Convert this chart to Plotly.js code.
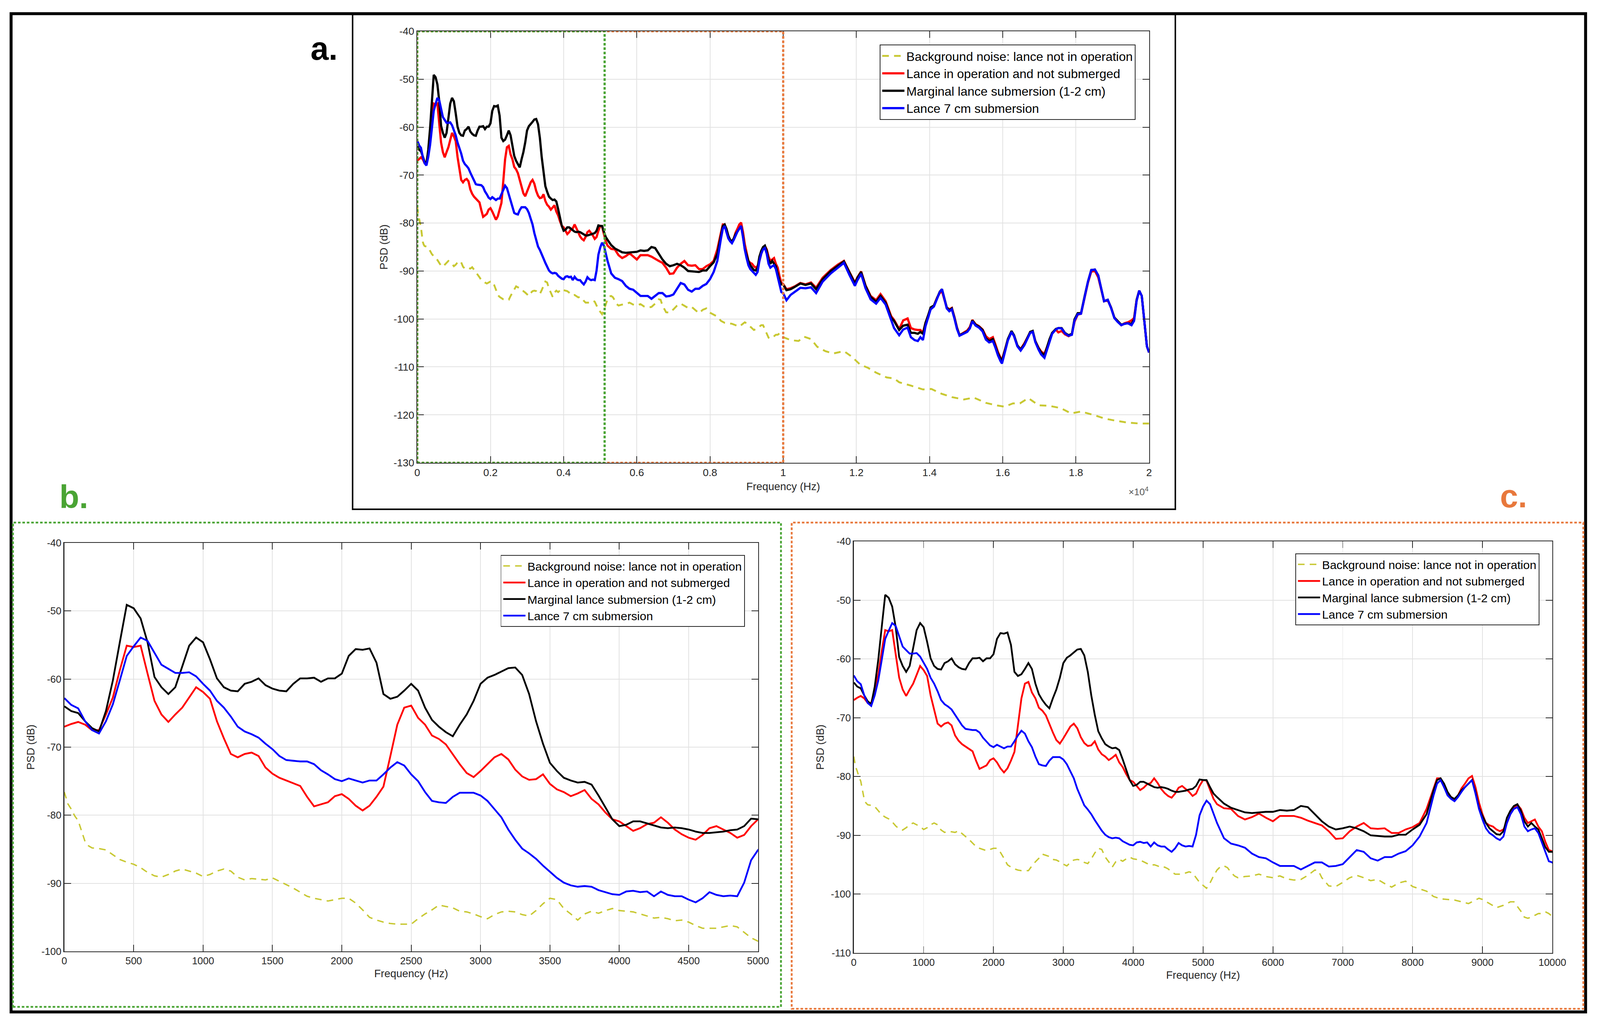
<!DOCTYPE html>
<html><head><meta charset="utf-8">
<script src="https://cdn.plot.ly/plotly-3.0.1.min.js"></script>
<style>html,body{margin:0;padding:0;background:#fff;overflow:hidden}#chart{width:100vw;height:100vh}</style>
</head><body><div id="chart"></div><script>
// ---------------- DATA ----------------
const freq = [
0,50,100,150,200,250,300,350,400,450,500,550,600,650,700,750,800,850,900,950,
1000,1050,1100,1150,1200,1250,1300,1350,1400,1450,1500,1550,1600,1650,1700,1750,1800,1850,1900,1950,
2000,2050,2100,2150,2200,2250,2300,2350,2400,2450,2500,2550,2600,2650,2700,2750,2800,2850,2900,2950,
3000,3050,3100,3150,3200,3250,3300,3350,3400,3450,3500,3550,3600,3650,3700,3750,3800,3850,3900,3950,
4000,4050,4100,4150,4200,4250,4300,4350,4400,4450,4500,4550,4600,4650,4700,4750,4800,4850,4900,4950,
5000,
5050,5100,5150,5200,5300,5400,5500,5600,5700,5800,5900,
6000,6100,6200,6300,6400,6500,6600,6700,6800,6900,
7000,7100,7200,7300,7400,7500,7600,7700,7800,7900,
8000,8100,8200,8300,8350,8400,8450,8500,8550,8600,8650,8700,8750,8800,8850,8900,8950,
9000,9050,9100,9150,9200,9250,9300,9350,9400,9450,9500,9550,9600,9650,9700,9750,9800,9850,9900,9950,
10000,10090,10200,10320,10470,10610,10760,10900,11080,11300,11490,11660,11810,11960,12030,12130,12250,12390,12540,12660,12800,12950,
13030,13170,13280,13400,13490,13590,13680,13750,13820,13890,13960,14030,14120,14210,14280,14340,14400,14470,14540,14610,14680,14750,14820,14910,
15030,15100,15170,15260,15350,15450,15540,15630,15730,15800,15870,15940,15980,16050,16140,16240,16310,16400,16490,16590,16680,16750,16820,16890,16980,
17050,17140,17210,17280,17350,17450,17520,17610,17700,17800,17890,17960,18050,18140,18240,18330,18420,18520,18610,18700,18770,18870,18960,
19050,19140,19240,19330,19420,19520,19590,19660,19730,19800,19870,19940,20000
];

// Lance in operation and not submerged (red)
const lanceDry = [
-67,-66.6,-66.3,-66.7,-67.5,-67.5,-65.2,-62.7,-58.7,-55.1,-55.3,-55.1,-59.2,-63.2,-65.2,-66.3,-65.2,-64.2,-62.7,-61.2,
-61.9,-62.9,-66.2,-68.7,-71,-71.5,-71,-70.8,-71.3,-73,-73.9,-74.5,-74.9,-75.3,-75.7,-77.3,-78.7,-78.4,-78.1,-77.2,
-76.9,-77.6,-78.6,-79.3,-78.6,-77.3,-75.8,-71.3,-66.7,-64.2,-63.9,-65.7,-66.7,-68.3,-68.8,-69.6,-71.1,-72.5,-73.8,-74.4,
-73.5,-72.5,-71.5,-71,-71.8,-73.3,-74.3,-74.8,-74.7,-74,-75.4,-76.2,-76.6,-77.2,-76.8,-76.3,-77.6,-78.4,-79.6,-80.6,
-80.9,-81.6,-82.3,-81.9,-81.3,-81.1,-80.3,-81.1,-82.1,-82.8,-83.3,-83.6,-82.9,-81.9,-81.6,-82.1,-82.6,-83.3,-82.9,-81.6,
-80.6,
-80.7,-82.3,-83.8,-84.7,-85.4,-85.5,-86.7,-87.3,-86.9,-86.3,-87,
-87.6,-86.7,-86.7,-86.7,-87,-87.5,-87.9,-88.3,-89.3,-90.6,
-90.5,-89.3,-88.5,-87.9,-88.8,-88.9,-88.8,-89.6,-89.6,-89,
-88.6,-87.9,-85.5,-82,-80.3,-80.3,-81.8,-82.9,-83.5,-84,-83.2,-82,-81.2,-80.3,-79.9,-81.8,-84.4,
-86.4,-87.9,-88.3,-88.5,-89,-89.3,-89,-87.9,-86.4,-85.3,-84.8,-85.5,-87,-87.9,-87.6,-87.3,-88.5,-89.3,-91.1,-92.5,
-92.7,-93.8,-93.6,-93.2,-92.5,-92.8,-92.4,-93.5,-91.4,-89.8,-88.7,-87.9,-90.2,-92.4,-91.3,-90.1,-93,-95.2,-96.1,-94.8,-96.3,-99.4,
-100.2,-102.1,-100.3,-99.9,-101.9,-102.2,-102.3,-102.3,-102.9,-100.8,-99.3,-97.8,-97.2,-95.5,-94.6,-94.2,-95.8,-97.6,-98,-97.7,-99.6,-101.8,-103.4,-103,
-102.4,-101.7,-100.2,-101.1,-101.5,-102.2,-103.6,-104.2,-103.8,-105.3,-106.9,-108.1,-108.5,-106.7,-104.3,-102.7,-103.6,-105.6,-106.3,-105.1,-103.8,-102.8,-102.6,-104.6,-106,
-106.8,-107.3,-105.9,-104.3,-103,-102.2,-102.8,-102.5,-103.2,-103.6,-103.2,-100.6,-99.1,-98.9,-95.4,-92.4,-90.1,-90,-91.3,-93.9,-96.3,-96.1,-97.6,
-99.7,-100.5,-101.3,-100.9,-100.7,-100.3,-99.8,-96,-94.1,-95.2,-100.4,-105.7,-107
];

// Marginal lance submersion (1-2 cm) (black)
const marginal = [
-64,-64.7,-65,-66.2,-67.2,-67.7,-64.7,-60.2,-54.6,-49.1,-49.6,-51.1,-54.6,-59.7,-61.2,-62.2,-61.2,-58.2,-55.1,-53.9,
-54.6,-57.1,-59.9,-61.2,-61.7,-61.8,-60.7,-60.4,-59.9,-60.9,-61.4,-61.7,-61.8,-60.7,-59.9,-59.9,-59.8,-60.4,-59.9,-59.9,
-59.2,-56.6,-55.6,-55.7,-55.5,-57.6,-62.2,-62.9,-62.6,-61.7,-60.7,-61.7,-64.2,-66,-67,-67.8,-68.4,-66.7,-65.2,-63.2,
-60.7,-59.8,-59.4,-58.9,-58.4,-58.3,-59.4,-62.2,-66.2,-69.5,-72.3,-73.5,-74.5,-74.9,-75.2,-75.1,-75.5,-77.1,-78.8,-80.6,
-81.6,-81.4,-80.9,-80.9,-81.2,-81.5,-81.8,-81.9,-81.8,-81.9,-82.1,-82.4,-82.6,-82.6,-82.5,-82.4,-82.2,-82.1,-81.6,-80.5,
-80.6,
-80.6,-81.8,-82.9,-83.5,-84.6,-85.3,-85.7,-86.1,-86.2,-86.1,-86,
-86,-85.7,-85.8,-85.7,-85,-85.2,-86.4,-87.6,-88.5,-89,
-88.8,-88.5,-88.8,-89.3,-90,-90.1,-90.2,-90.2,-89.9,-89.9,
-89,-88.2,-86.4,-82.3,-80.6,-80.3,-81.2,-82.6,-83.5,-83.8,-83.2,-82.3,-81.8,-81.2,-80.6,-82.6,-85.3,
-86.7,-87.9,-88.8,-89.3,-89.8,-89.9,-89.3,-87,-85.8,-85,-84.7,-85.8,-87.6,-88.5,-87.9,-88.5,-89,-90.5,-92,-92.8,
-92.8,-94,-93.8,-93.3,-92.6,-92.9,-92.6,-93.8,-91.7,-90,-88.9,-88,-90.3,-92.6,-91.4,-90.2,-93.1,-95.4,-96.4,-95.2,-96.6,-99.7,
-100.4,-102.3,-101.4,-101.2,-102.9,-102.9,-103.1,-102.7,-103.1,-100.8,-99.3,-97.6,-97.2,-95.4,-94.3,-93.8,-95.6,-97.6,-98.2,-97.8,-99.7,-101.9,-103.4,-103.1,
-102.6,-101.9,-100.3,-101.2,-101.6,-102.3,-104,-104.6,-104.2,-105.7,-107.2,-108.3,-108.7,-106.8,-104.2,-102.5,-103.4,-105.5,-106.4,-105.3,-103.8,-102.7,-102.5,-104.6,-106.1,
-107,-107.6,-105.9,-104.2,-102.9,-102.1,-101.9,-101.9,-102.9,-103.4,-103.1,-100.1,-98.8,-98.8,-95.2,-92.2,-89.8,-89.7,-90.9,-93.7,-96.3,-96,-97.6,
-99.7,-100.4,-101.2,-101,-100.9,-101,-100.1,-96,-94.1,-95.2,-100.4,-105.7,-107
];

// Lance 7 cm submersion (blue)
const deep7cm = [
-62.8,-63.8,-64.3,-66.2,-67.5,-68,-66.2,-63.7,-60.2,-56.6,-55.2,-53.9,-54.4,-56.1,-57.9,-58.5,-59.1,-59.1,-59,-59.6,
-60.7,-61.7,-63.2,-64.2,-65.5,-67,-67.7,-68.1,-68.6,-69.5,-70.3,-71.3,-71.9,-72,-72.1,-72.1,-72.5,-73.4,-74,-74.7,
-75,-74.6,-74.9,-75.2,-74.9,-74.9,-74,-73,-72.2,-72.7,-74,-75,-76.6,-77.9,-78.1,-78.2,-77.3,-76.7,-76.7,-76.7,
-77.1,-77.9,-79.1,-80.3,-82.1,-83.6,-84.9,-85.6,-86.4,-87.4,-88.3,-89.2,-89.9,-90.3,-90.5,-90.4,-90.5,-91,-91.3,-91.6,
-91.7,-91.2,-91.1,-91.3,-91.2,-91.9,-91.2,-91.7,-91.9,-91.9,-92.4,-92.8,-92.2,-91.3,-91.7,-91.9,-91.8,-91.9,-89.9,-86.6,
-85.1,
-84.1,-84.7,-86.4,-87.9,-90.5,-91.4,-91.7,-92.1,-93.1,-93.7,-93.9,
-94.6,-95.2,-95.2,-95.2,-95.8,-95.2,-94.6,-94.6,-95.3,-95.2,
-94.9,-93.7,-92.5,-92.8,-93.9,-94.3,-93.7,-93.7,-93.1,-92.7,
-91.7,-90.2,-87.9,-83.2,-81.2,-80.6,-81.8,-83.2,-83.8,-84.2,-83.5,-82.6,-81.8,-81.2,-80.6,-82.9,-85.5,
-87.3,-88.8,-89.6,-90,-90.5,-90.8,-90.2,-87.9,-86.4,-85.5,-85.2,-86.4,-88.5,-89.3,-89,-88.8,-89.6,-91.1,-92.8,-94.4,
-94.6,-96.1,-95,-94.3,-93.5,-93.6,-93.4,-94.6,-92.2,-90.5,-89.3,-88.3,-90.8,-93.1,-91.9,-90.6,-93.6,-95.9,-96.8,-95.6,-97,-100.4,
-101.9,-103.4,-102.2,-101.8,-103.8,-104.4,-104.6,-103.8,-104.4,-101.5,-99.8,-98,-97.4,-95.6,-94.4,-93.8,-95.6,-97.8,-98.4,-98,-99.9,-102.1,-103.5,-103.2,
-102.7,-102,-100.5,-101.4,-101.8,-102.6,-104.3,-104.9,-104.6,-106,-107.6,-108.8,-109.3,-107.2,-104.5,-102.7,-103.6,-105.7,-106.6,-105.5,-104,-102.9,-102.7,-104.8,-106.4,
-107.4,-108.1,-106.3,-104.5,-103.1,-102.2,-101.9,-102,-103,-103.5,-103.3,-100.4,-99,-98.9,-95.2,-92.2,-89.8,-89.7,-90.9,-93.7,-96.3,-96,-97.7,
-99.8,-100.6,-101.3,-101,-100.9,-101.3,-100.4,-96.2,-94.1,-95.2,-100.4,-105.7,-107
];

// Background noise: lance not in operation (yellow dashed)
const bgFreq = [
0,25,50,75,100,125,150,175,200,250,300,350,400,450,500,550,600,650,700,750,800,850,900,950,
1000,1050,1100,1150,1200,1250,1300,1350,1400,1450,1500,1550,1600,1650,1700,1750,1800,1850,1900,1950,
2000,2050,2100,2150,2200,2250,2300,2350,2400,2450,2500,2550,2600,2650,2700,2750,2800,2850,2900,2950,
3000,3050,3100,3150,3200,3250,3300,3350,3400,3450,3500,3550,3600,3650,3700,3750,3800,3850,3900,3950,
4000,4050,4100,4150,4200,4250,4300,4350,4400,4450,4500,4550,4600,4650,4700,4750,4800,4850,4900,4950,
5000,
5050,5100,5150,5200,5250,5300,5350,5400,5450,5500,5600,5700,5800,5900,
6000,6100,6200,6300,6400,6500,6600,6650,6700,6800,6900,
7000,7100,7200,7300,7400,7500,7600,7700,7800,7900,
8000,8100,8200,8300,8400,8500,8600,8700,8800,8900,8950,
9000,9100,9200,9300,9400,9450,9500,9550,9600,9650,9700,9750,9800,9850,9900,9950,
10000,10200,10420,10570,10760,10930,11150,11370,11660,11880,12100,12320,12540,12830,
13030,13170,13490,13820,14050,14330,14610,14940,15210,15540,15820,16050,16280,16470,16700,16980,17260,17590,17870,18140,18470,18800,19070,19400,19730,20000
];
const bgNoise = [
-76.6,-78.3,-79.1,-80.1,-80.8,-82.4,-83.9,-84.5,-84.8,-84.9,-85.1,-85.8,-86.5,-86.9,-87.2,-87.7,-88.4,-88.9,-89.1,-88.7,-88.2,-87.9,-88.2,-88.5,
-89,-88.7,-88.2,-87.9,-88.2,-89.1,-89.5,-89.3,-89.4,-89.5,-89.2,-89.7,-90.2,-90.7,-91.3,-91.9,-92.2,-92.4,-92.6,-92.4,
-92.2,-92.2,-92.9,-93.9,-95,-95.4,-95.7,-95.9,-96,-96,-96,-95.2,-94.5,-93.9,-93.2,-93.4,-93.6,-94.1,-94.2,-94.5,
-94.9,-95.2,-94.6,-94.2,-94.1,-94.2,-94.6,-94.8,-94,-93,-92.2,-92.4,-93.7,-94.5,-95.4,-94.5,-94.1,-94.4,-94,-93.7,
-94,-94.1,-94.2,-94.5,-94.8,-95.1,-95,-95.2,-95.5,-95.4,-95.7,-96.2,-96.6,-96.6,-96.6,-96.4,-96.2,-96.4,-97.2,-98,
-98.5,
-99,-98.1,-96.9,-95.9,-95.3,-95.2,-95.5,-96.3,-96.9,-97.2,-97,-96.9,-96.6,-97,
-97.2,-96.9,-97.4,-97.6,-97.5,-96.8,-95.9,-96,-97.2,-98.6,-98.7,
-98,-97.2,-96.8,-97.2,-97.7,-97.5,-98.2,-98.8,-98.1,-97.8,
-98.7,-99.1,-99.5,-100.4,-100.8,-100.9,-101,-101.3,-101.6,-101,-100.7,
-100.9,-101.6,-102.3,-101.9,-101.3,-101.3,-102.1,-102.9,-103.9,-104.1,-103.9,-103.6,-103.3,-103.3,-103,-103.3,
-103.8,-104.4,-104.6,-103.7,-104.2,-105.8,-106.7,-107.2,-106.7,-107.9,-109.5,-110.2,-111.2,-112.2,
-112.4,-113.2,-113.9,-114.7,-114.6,-115.6,-116.3,-116.8,-116.4,-117.5,-118,-118.3,-117.6,-117.6,-116.5,-118,-118.1,-118.6,-119.7,-119.3,-120,-120.8,-121.2,-121.6,-121.8,-121.8
];

const seriesNames = [
  'Background noise: lance not in operation',
  'Lance in operation and not submerged',
  'Marginal lance submersion (1-2 cm)',
  'Lance 7 cm submersion'
];
const seriesColors = ['#c8c832', '#ff0000', '#000000', '#0000ff'];

// Tick labels
const aTickVals = [0,2000,4000,6000,8000,10000,12000,14000,16000,18000,20000];
const aTickText = ['0','0.2','0.4','0.6','0.8','1','1.2','1.4','1.6','1.8','2'];
const aYTicks = [-130,-120,-110,-100,-90,-80,-70,-60,-50,-40];
const aYText  = ['-130','-120','-110','-100','-90','-80','-70','-60','-50','-40'];
const bXTicks = [0,500,1000,1500,2000,2500,3000,3500,4000,4500,5000];
const bXText  = ['0','500','1000','1500','2000','2500','3000','3500','4000','4500','5000'];
const bYTicks = [-100,-90,-80,-70,-60,-50,-40];
const bYText  = ['-100','-90','-80','-70','-60','-50','-40'];
const cXTicks = [0,1000,2000,3000,4000,5000,6000,7000,8000,9000,10000];
const cXText  = ['0','1000','2000','3000','4000','5000','6000','7000','8000','9000','10000'];
const cYTicks = [-110,-100,-90,-80,-70,-60,-50,-40];
const cYText  = ['-110','-100','-90','-80','-70','-60','-50','-40'];
// Frequency limits of the zoomed panels (b and c), outlined in panel a
const zoomB = [0, 5120];
const zoomC = [0, 10000];
const panelLabels = ['a.', 'b.', 'c.'];

// ---------------- FIGURE ----------------
const REFW = 4329, REFH = 2627;
const W = window.innerWidth || REFW, H = window.innerHeight || REFH;
const s = W / REFW;               // size factor for fonts and line widths
const px = v => v / REFW;
const py = v => 1 - v / REFH;
const z = v => v * s;
const FONT = 'Liberation Sans, Arial, Helvetica, sans-serif';
const AX = '#262626';
const GREEN = '#4aa434';
const ORANGE = '#e8783c';

const panels = [
  {xa: 'x',  ya: 'y',  legend: 'legend',  lw: 6},
  {xa: 'x2', ya: 'y2', legend: 'legend2', lw: 4.8},
  {xa: 'x3', ya: 'y3', legend: 'legend3', lw: 4.8}
];
const yData = [bgNoise, lanceDry, marginal, deep7cm];
const xData = [bgFreq, freq, freq, freq];

const traces = [];
panels.forEach(p => {
  for (let i = 0; i < 4; i++) {
    traces.push({
      type: 'scatter', mode: 'lines',
      x: xData[i], y: yData[i], name: seriesNames[i],
      xaxis: p.xa, yaxis: p.ya, legend: p.legend,
      line: {color: seriesColors[i], width: z(i === 0 ? p.lw - 1 : p.lw),
             dash: i === 0 ? (z(18).toFixed(1) + 'px,' + z(14).toFixed(1) + 'px') : 'solid'},
      hoverinfo: 'skip'
    });
  }
});

function axis(extra) {
  return Object.assign({
    showline: true, mirror: 'ticks', linecolor: AX, linewidth: z(2.5),
    ticks: 'inside', ticklen: z(18), tickwidth: z(2), tickcolor: AX,
    showgrid: true, gridcolor: '#e2e2e2', gridwidth: z(2), zeroline: false,
    tickfont: {family: FONT, size: z(27), color: AX},
    ticklabelstandoff: z(8)
  }, extra);
}
const titleFont = {family: FONT, size: z(29), color: AX};
const dotted = z(7).toFixed(1) + 'px,' + z(5).toFixed(1) + 'px';

function legendBox(xr, yt, size) {
  return {x: px(xr), xanchor: 'right', y: py(yt), yanchor: 'top',
          bgcolor: '#ffffff', bordercolor: AX, borderwidth: z(2),
          font: {family: FONT, size: z(size), color: '#000'},
          itemwidth: Math.max(30, z(60)), tracegroupgap: 0};
}

const layout = {
  width: W, height: H, margin: {l: 0, r: 0, t: 0, b: 0, pad: 0},
  paper_bgcolor: '#ffffff', plot_bgcolor: '#ffffff',
  font: {family: FONT, color: AX},
  showlegend: true,
  xaxis: axis({domain: [px(1129), px(3109)], range: [0, 20000], anchor: 'y',
               tickvals: aTickVals, ticktext: aTickText, tickfont: {family: FONT, size: z(28), color: AX},
               title: {text: 'Frequency (Hz)', font: titleFont, standoff: z(12)}}),
  yaxis: axis({domain: [py(1185), py(80)], range: [-130, -40], anchor: 'x',
               tickvals: aYTicks, ticktext: aYText, tickfont: {family: FONT, size: z(28), color: AX},
               title: {text: 'PSD (dB)', font: titleFont, standoff: z(8)}}),
  xaxis2: axis({domain: [px(174), px(2051)], range: [0, 5000], anchor: 'y2',
                tickvals: bXTicks, ticktext: bXText,
                title: {text: 'Frequency (Hz)', font: titleFont, standoff: z(10)}}),
  yaxis2: axis({domain: [py(2436), py(1390)], range: [-100, -40], anchor: 'x2',
                tickvals: bYTicks, ticktext: bYText,
                title: {text: 'PSD (dB)', font: titleFont, standoff: z(10)}}),
  xaxis3: axis({domain: [px(2310), px(4200)], range: [0, 10000], anchor: 'y3',
                tickvals: cXTicks, ticktext: cXText,
                title: {text: 'Frequency (Hz)', font: titleFont, standoff: z(10)}}),
  yaxis3: axis({domain: [py(2440), py(1386)], range: [-110, -40], anchor: 'x3',
                tickvals: cYTicks, ticktext: cYText,
                title: {text: 'PSD (dB)', font: titleFont, standoff: z(10)}}),
  legend: legendBox(3072, 114, 33.8),
  legend2: legendBox(2015, 1421, 32),
  legend3: legendBox(4165, 1417, 32),
  shapes: [
    // outer frame of the figure
    {type: 'rect', xref: 'paper', yref: 'paper', x0: px(30), x1: px(4290), y0: py(2591), y1: py(35),
     line: {color: '#000', width: z(8)}, layer: 'above'},
    // box around panel a
    {type: 'rect', xref: 'paper', yref: 'paper', x0: px(954), x1: px(3180), y0: py(1304), y1: py(37),
     line: {color: '#000', width: z(4)}, layer: 'above'},
    // dotted box around panel b
    {type: 'rect', xref: 'paper', yref: 'paper', x0: px(35), x1: px(2113), y0: py(2578), y1: py(1338),
     line: {color: GREEN, width: z(5), dash: dotted}, layer: 'above'},
    // dotted box around panel c
    {type: 'rect', xref: 'paper', yref: 'paper', x0: px(2142), x1: px(4284), y0: py(2583), y1: py(1338),
     line: {color: ORANGE, width: z(5), dash: dotted}, layer: 'above'},
    // zoom windows drawn inside panel a
    {type: 'rect', xref: 'x', yref: 'y', x0: zoomC[0], x1: zoomC[1], y0: -130, y1: -40,
     line: {color: ORANGE, width: z(6), dash: dotted}, layer: 'above'},
    {type: 'rect', xref: 'x', yref: 'y', x0: zoomB[0], x1: zoomB[1], y0: -130, y1: -40,
     line: {color: GREEN, width: z(6), dash: dotted}, layer: 'above'}
  ],
  annotations: [
    {xref: 'paper', yref: 'paper', x: px(877), y: py(124), xanchor: 'center', yanchor: 'middle', showarrow: false,
     text: '<b>' + panelLabels[0] + '</b>', font: {family: FONT, size: z(88), color: '#000'}},
    {xref: 'paper', yref: 'paper', x: px(200), y: py(1272), xanchor: 'center', yanchor: 'middle', showarrow: false,
     text: '<b>' + panelLabels[1] + '</b>', font: {family: FONT, size: z(88), color: GREEN}},
    {xref: 'paper', yref: 'paper', x: px(4095), y: py(1270), xanchor: 'center', yanchor: 'middle', showarrow: false,
     text: '<b>' + panelLabels[2] + '</b>', font: {family: FONT, size: z(88), color: ORANGE}},
    {xref: 'paper', yref: 'paper', x: px(3110), xanchor: 'right', y: py(1257), yanchor: 'middle', showarrow: false,
     text: '\u00d710<sup>4</sup>', font: {family: FONT, size: z(26), color: '#555'}}
  ]
};

Plotly.newPlot('chart', traces, layout, {staticPlot: true, displayModeBar: false});
</script></body></html>
